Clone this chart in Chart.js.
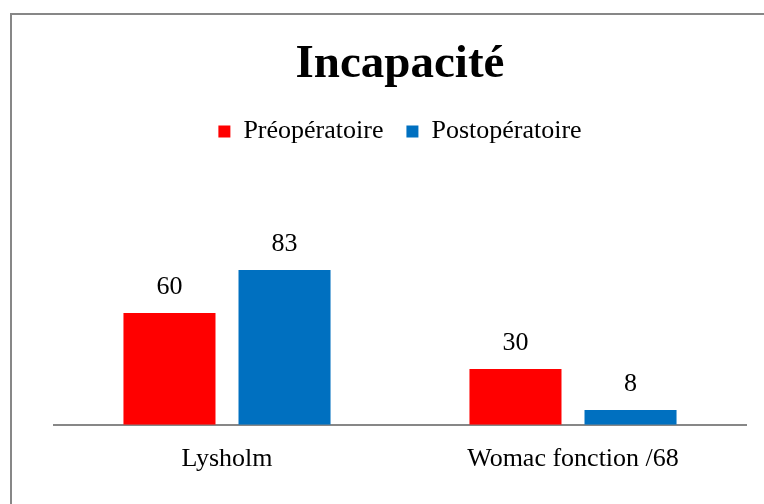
<!DOCTYPE html>
<html>
<head>
<meta charset="utf-8">
<script src="https://cdn.jsdelivr.net/npm/chart.js@4"></script>
<style>
  html, body { margin: 0; padding: 0; background: #fff; overflow: hidden; }
  #wrap { position: relative; width: 764px; height: 504px; overflow: hidden; }
  #frame { position: absolute; left: 10px; top: 13px; width: 800px; height: 600px; border: 2px solid #878787; box-sizing: border-box; }
  #chart { position: absolute; left: 0; top: 0; }
</style>
</head>
<body>
<div id="wrap">
  <div id="frame"></div>
  <canvas id="chart" width="764" height="504"></canvas>
</div>
<script>
const categories = ['Lysholm', 'Womac fonction /68'];
const preop = [60, 30];
const postop = [83, 8];
const seriesNames = ['Préopératoire', 'Postopératoire'];

const serif = "'Liberation Serif', 'Times New Roman', serif";

// values written above each bar
const barLabels = {
  id: 'barLabels',
  afterDatasetsDraw(chart) {
    const ctx = chart.ctx;
    ctx.save();
    ctx.font = '26px ' + serif;
    ctx.fillStyle = '#000';
    ctx.textAlign = 'center';
    ctx.textBaseline = 'alphabetic';
    chart.data.datasets.forEach((ds, i) => {
      chart.getDatasetMeta(i).data.forEach((bar, j) => {
        ctx.fillText(String(ds.data[j]), bar.x, bar.y - 19);
      });
    });
    ctx.restore();
  }
};

// extra room between legend and plot
const legendGap = {
  id: 'legendGap',
  beforeInit(chart) {
    const fit = chart.legend.fit;
    chart.legend.fit = function () {
      fit.bind(chart.legend)();
      this.height += 84;
    };
  }
};

new Chart(document.getElementById('chart'), {
  type: 'bar',
  data: {
    labels: categories,
    datasets: [
      { label: seriesNames[0], data: preop, backgroundColor: '#FF0000' },
      { label: seriesNames[1], data: postop, backgroundColor: '#0070C0' }
    ]
  },
  options: {
    responsive: false,
    animation: false,
    categoryPercentage: 0.665,
    barPercentage: 0.8,
    layout: { padding: { top: 10, left: 54, right: 18, bottom: 10 } },
    plugins: {
      title: {
        display: true,
        text: 'Incapacité',
        color: '#000',
        font: { family: serif, size: 47, weight: 'bold' },
        padding: { top: 27, bottom: 2 }
      },
      legend: {
        position: 'top',
        labels: {
          color: '#000',
          font: { family: serif, size: 26 },
          boxWidth: 12,
          boxHeight: 12,
          padding: 23
        }
      },
      tooltip: { enabled: false }
    },
    scales: {
      x: {
        grid: { display: false, drawTicks: false },
        border: { display: true, color: '#878787', width: 2 },
        ticks: { color: '#000', font: { family: serif, size: 26 }, padding: 19 }
      },
      y: {
        display: false,
        min: 0,
        max: 100
      }
    }
  },
  plugins: [barLabels, legendGap]
});
</script>
</body>
</html>
